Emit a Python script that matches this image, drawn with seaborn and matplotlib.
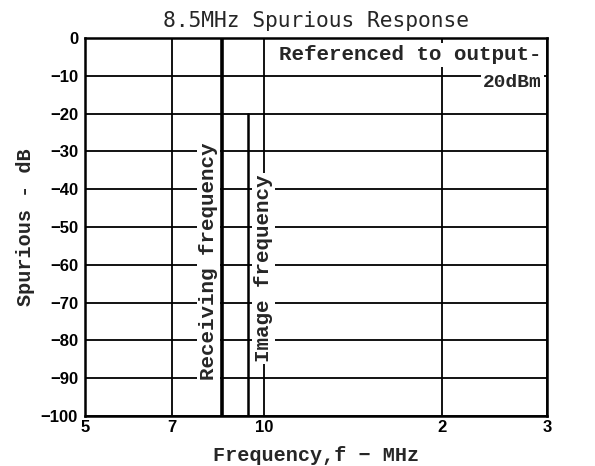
import matplotlib
matplotlib.use("Agg")
import matplotlib.pyplot as plt
import pandas as pd
import seaborn as sns

# data
receiving_freq = 8.5      # MHz
image_freq = 9.41         # MHz (8.5 + 2 x 455 kHz)
receiving_level = [-100, 0]
image_level = [-100, -20]

x_ticks = [5, 7, 10, 20, 30]
x_ticklabels = ["5", "7", "10", "2", "3"]
y_ticks = [0, -10, -20, -30, -40, -50, -60, -70, -80, -90, -100]

sns.set_style("white")
plt.rcParams["font.family"] = ["Liberation Mono", "DejaVu Sans Mono"]
plt.rcParams["axes.unicode_minus"] = True

fig = plt.figure(figsize=(5.95, 4.66), dpi=100)
ax = fig.add_axes([0.1429, 0.1073, 0.7764, 0.8112])

lines = pd.DataFrame({
    "freq": [receiving_freq] * 2 + [image_freq] * 2,
    "level": receiving_level + image_level,
    "name": ["Receiving"] * 2 + ["Image"] * 2,
})
sns.lineplot(data=lines, x="freq", y="level", hue="name", size="name",
             sizes={"Receiving": 2.6, "Image": 1.8},
             palette={"Receiving": "black", "Image": "black"},
             estimator=None, sort=False, legend=False, ax=ax, zorder=2)

ax.set_xscale("log")
ax.set_xlim(5, 30)
ax.set_ylim(-100, 0)
ax.set_xticks(x_ticks)
ax.set_xticklabels(x_ticklabels)
ax.minorticks_off()
ax.set_yticks(y_ticks)
ax.set_yticklabels([f"\u2212{abs(v)}" if v else "0" for v in y_ticks])

ax.set_axisbelow(True)
ax.grid(True, color="black", linewidth=1.3)
for s in ax.spines.values():
    s.set_linewidth(1.8)
    s.set_color("black")

ax.tick_params(axis="both", length=0, colors="black")
ax.tick_params(axis="y", pad=5)
ax.tick_params(axis="x", pad=3)
for lab in ax.get_yticklabels() + ax.get_xticklabels():
    lab.set_fontfamily(["Liberation Sans", "DejaVu Sans"])
    lab.set_fontweight("bold")
    lab.set_fontsize(12)

ax.set_title("8.5MHz Spurious Response", fontsize=15.3,
             fontfamily=["DejaVu Sans Mono"], pad=8)
ax.set_xlabel("Frequency,f \u2212 MHz", fontsize=14.5, fontweight="bold", labelpad=8)
ax.set_ylabel("Spurious - dB", fontsize=14.5, fontweight="bold", labelpad=4)

box = dict(facecolor="white", edgecolor="none", pad=1.5)
ax.text(8.08, -59, "Receiving frequency", rotation=90, ha="center", va="center",
        fontsize=15, fontweight="bold", bbox=box, zorder=3)
ax.text(10.0, -61, "Image frequency", rotation=90, ha="center", va="center",
        fontsize=15, fontweight="bold", bbox=box, zorder=3)
ax.text(29.4, -4.5, "Referenced to output-", ha="right", va="center",
        fontsize=15, fontweight="bold", bbox=box, zorder=3)
ax.text(29.4, -11.8, "20dBm", ha="right", va="center",
        fontsize=14, fontweight="bold", bbox=box, zorder=3)

fig.savefig("out.png", dpi=100)
